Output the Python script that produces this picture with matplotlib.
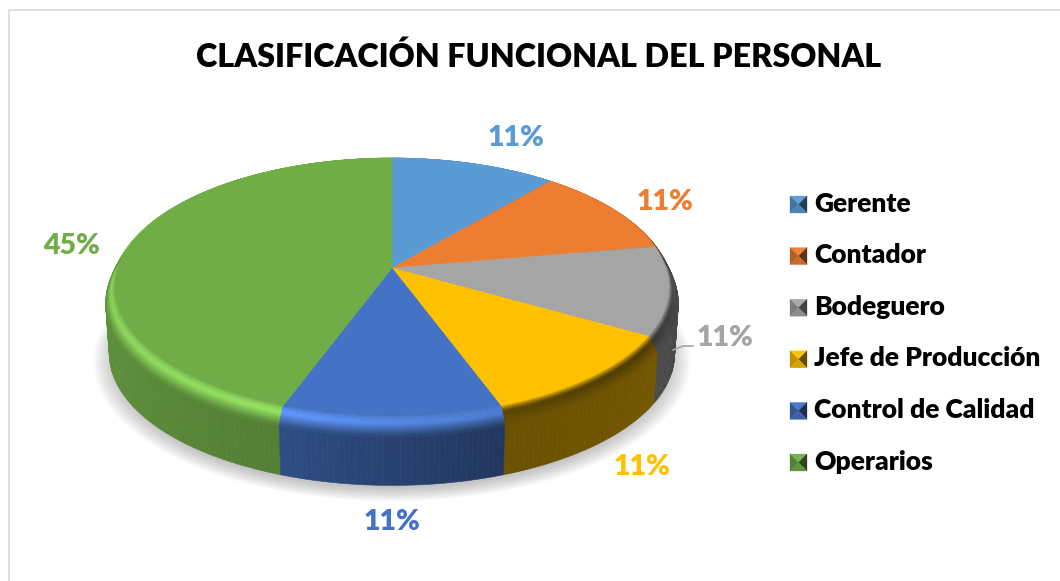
import numpy as np
import matplotlib
matplotlib.use("Agg")
from matplotlib import pyplot as plt
from matplotlib.collections import PolyCollection
from matplotlib.colors import to_rgb
from matplotlib.patches import Polygon

titulo = "CLASIFICACIÓN FUNCIONAL DEL PERSONAL"
categorias = ["Gerente", "Contador", "Bodeguero", "Jefe de Producción", "Control de Calidad", "Operarios"]
personas = [1, 1, 1, 1, 1, 4]
etiquetas = ["11%", "11%", "11%", "11%", "11%", "45%"]
colores = ["#5B9BD5", "#ED7D31", "#A5A5A5", "#FFC000", "#4472C4", "#70AD47"]

plt.rcParams["font.family"] = ["Lato", "DejaVu Sans"]

# geometria do disco em pixels da figura
cx, cy = 392, 268
R, Q, k = 274, 126.2, 0.147
r_borda = 1.033
r_base = 1.02
h_borda = 15
h_base = 66


def projeta(r, ang, z=0):
    # ang em graus, sentido horario a partir do topo; z desce o ponto na tela
    a = np.radians(ang)
    u, v = r * np.sin(a), r * np.cos(a)
    w = 1 + k * v
    return np.column_stack([cx + R * u / w, cy - Q * v / w + z])


def mistura(c, alvo, t):
    return tuple((1 - t) * np.array(c) + t * np.array(alvo))


def fator_lateral(ang):
    # escurecimento da parede conforme o angulo
    return np.interp(ang, [90, 120, 159.9, 160, 200, 200.1, 270, 300],
                     [0.42, 0.45, 0.42, 0.48, 0.68, 0.74, 0.86, 0.9])


def luz_borda(ang):
    # >0 clareia, <0 escurece o chanfro
    return np.interp(ang, [0, 50, 90, 125, 159.9, 160, 200, 250, 320, 360],
                     [0, -0.1, -0.5, -0.7, -0.65, 0.03, 0.28, 0.2, 0.12, 0])


fig = plt.figure(figsize=(10.6, 5.81), dpi=100)
ax = fig.add_axes([0, 0, 1, 1])
ax.set_xlim(0, 1060)
ax.set_ylim(581, 0)
ax.axis("off")

# moldura
ax.plot([8.5, 8.5, 1060], [581, 9.5, 9.5], color="#D9D9D9", lw=1.2)

# sombra
for r in np.linspace(1.075, 1.0, 12):
    ang = np.linspace(0, 360, 240)
    ax.add_patch(Polygon(projeta(r, ang, h_base + 6), closed=True, fc="#707070", ec="none", alpha=0.04))

limites = np.cumsum([0] + personas) / sum(personas) * 360

faces_p, faces_c, faces_o = [], [], []
for i, cor in enumerate(colores):
    base = to_rgb(cor)
    ini, fim = limites[i], limites[i + 1]
    passos = int((fim - ini) / 1.0) + 1
    angs = np.linspace(ini, fim, passos + 1)
    for a0, a1 in zip(angs[:-1], angs[1:]):
        am = (a0 + a1) / 2
        # parede
        sup = projeta(r_borda, np.array([a0, a1]), h_borda)
        inf = projeta(r_base, np.array([a1, a0]), h_base)
        faces_p.append(np.vstack([sup, inf]))
        faces_c.append(tuple(np.array(base) * fator_lateral(am)))
        faces_o.append(-np.cos(np.radians(am)))
        # chanfro
        ts = np.linspace(0, 1, 13)
        parede = np.array(base) * fator_lateral(am)
        for t0, t1 in zip(ts[:-1], ts[1:]):
            tm = (t0 + t1) / 2
            r0, r1 = 1 + (r_borda - 1) * t0, 1 + (r_borda - 1) * t1
            z0, z1 = h_borda * t0 ** 1.5, h_borda * t1 ** 1.5
            q = np.vstack([projeta(r0, np.array([a0, a1]), z0), projeta(r1, np.array([a1, a0]), z1)])
            s = luz_borda(am) * min(1, tm / 0.4)
            if s > 0:
                c = tuple(np.clip(np.array(base) * (1 + s) + 0.02, 0, 1))
            else:
                c = mistura(base, (0, 0, 0), -s)
            if tm > 0.5:
                c = mistura(c, parede, (tm - 0.5) / 0.5)
            faces_p.append(q)
            faces_c.append(c)
            faces_o.append(-np.cos(np.radians(am)) + 3 + tm)

ordem = np.argsort(faces_o)
pc = PolyCollection([faces_p[j] for j in ordem], facecolors=[faces_c[j] for j in ordem],
                    edgecolors=[faces_c[j] for j in ordem], linewidths=0.4)
ax.add_collection(pc)

# fatias do topo
for i, cor in enumerate(colores):
    angs = np.linspace(limites[i], limites[i + 1], 120)
    pts = np.vstack([[cx, cy], projeta(1, angs)])
    ax.add_patch(Polygon(pts, closed=True, fc=cor, ec=cor, lw=0.3))

# titulo e rotulos
ax.text(539, 57, titulo, fontsize=23.2, fontweight=800, color="black", ha="center", va="center")

pos_rotulos = [(516, 138), (665, 202), (725, 338), (642, 467), (392, 522), (72, 246)]
for (x, y), txt, cor in zip(pos_rotulos, etiquetas, colores):
    ax.text(x, y, txt, fontsize=20.5, fontweight=800, color=cor, ha="center", va="center")

ax.plot([673, 683, 693], [350, 346, 346], color="#A5A5A5", lw=1.2)

# legenda
for i, (nome, cor) in enumerate(zip(categorias, colores)):
    yc = 204.5 + i * 51.6
    x0, x1, y0, y1 = 790, 807, yc - 8.5, yc + 8.5
    xm = (x0 + x1) / 2
    c = np.array(to_rgb(cor))
    tris = [([(x0, y0), (x1, y0), (xm, yc)], c * 0.95 + 0.05),
            ([(x0, y0), (x0, y1), (xm, yc)], c * 0.75),
            ([(x1, y0), (x1, y1), (xm, yc)], c * 0.4),
            ([(x0, y1), (x1, y1), (xm, yc)], c * 0.85)]
    for pts, fc in tris:
        ax.add_patch(Polygon(pts, closed=True, fc=fc, ec=fc, lw=0.2))
    ax.text(814, yc - 1, nome, fontsize=19, fontweight=800, color="black", ha="left", va="center")

fig.savefig("out.png", dpi=100)
